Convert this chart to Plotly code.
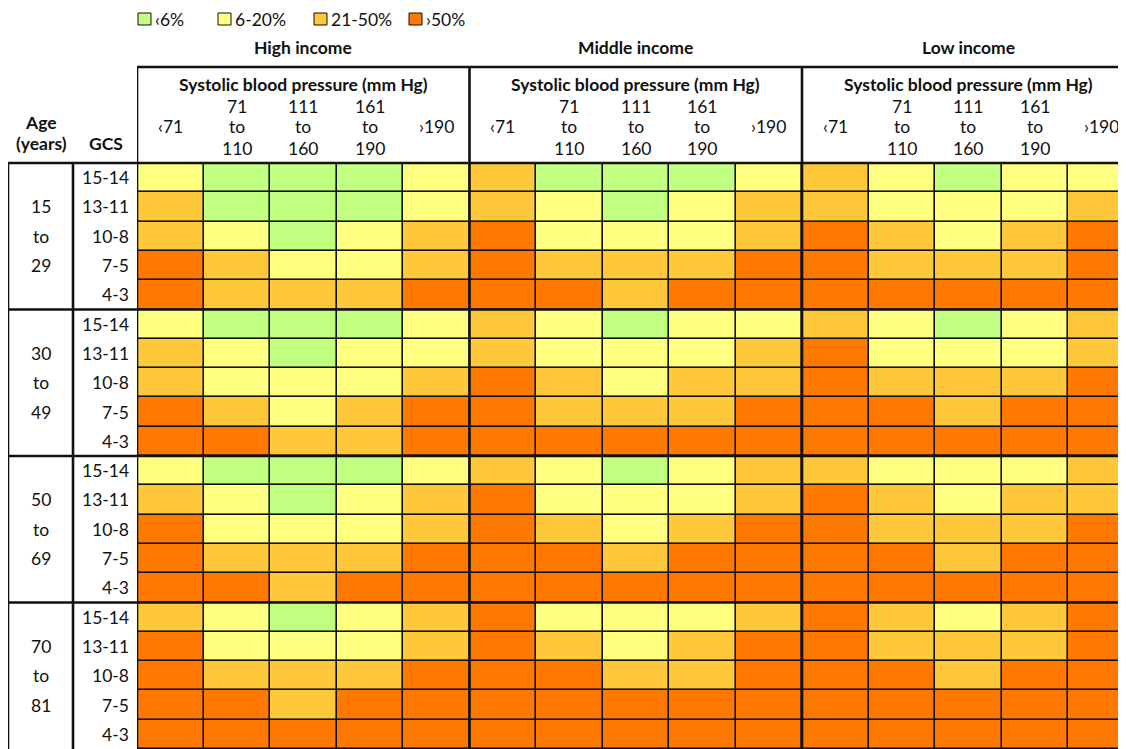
import plotly.graph_objects as go

# ---------------- data ----------------
income_groups = ["High income", "Middle income", "Low income"]
sbp_title = "Systolic blood pressure (mm Hg)"
sbp_top = ["", "71", "111", "161", ""]
sbp_mid = ["‹71", "to", "to", "to", "›190"]
sbp_bot = ["", "110", "160", "190", ""]
age_groups = [["15", "to", "29"], ["30", "to", "49"], ["50", "to", "69"], ["70", "to", "81"]]
gcs_labels = ["15-14", "13-11", "10-8", "7-5", "4-3"]
risk_labels = ["‹6%", "6-20%", "21-50%", "›50%"]
risk_colors = ["#C0FF80", "#FFFF80", "#FFC83A", "#FF7800"]

# risk category codes: 0 = <6%, 1 = 6-20%, 2 = 21-50%, 3 = >50%
# rows: age group x GCS (20 rows), columns: SBP bands
high_income = [
    [1, 0, 0, 0, 1], [2, 0, 0, 0, 1], [2, 1, 0, 1, 2], [3, 2, 1, 1, 2], [3, 2, 2, 2, 3],
    [1, 0, 0, 0, 1], [2, 1, 0, 1, 1], [2, 1, 1, 1, 2], [3, 2, 1, 2, 3], [3, 3, 2, 2, 3],
    [1, 0, 0, 0, 1], [2, 1, 0, 1, 2], [3, 1, 1, 1, 2], [3, 2, 2, 2, 3], [3, 3, 2, 3, 3],
    [2, 1, 0, 1, 2], [3, 1, 1, 1, 2], [3, 2, 2, 2, 3], [3, 3, 2, 3, 3], [3, 3, 3, 3, 3],
]
middle_income = [
    [2, 0, 0, 0, 1], [2, 1, 0, 1, 2], [3, 1, 1, 1, 2], [3, 2, 2, 2, 3], [3, 3, 2, 3, 3],
    [2, 1, 0, 1, 1], [2, 1, 1, 1, 2], [3, 2, 1, 2, 2], [3, 2, 2, 2, 3], [3, 3, 3, 3, 3],
    [2, 1, 0, 1, 2], [3, 1, 1, 1, 2], [3, 2, 1, 2, 3], [3, 3, 2, 3, 3], [3, 3, 3, 3, 3],
    [3, 1, 1, 1, 2], [3, 2, 1, 2, 3], [3, 3, 2, 2, 3], [3, 3, 3, 3, 3], [3, 3, 3, 3, 3],
]
low_income = [
    [2, 1, 0, 1, 1], [2, 1, 1, 1, 2], [3, 2, 1, 2, 3], [3, 2, 2, 2, 3], [3, 3, 3, 3, 3],
    [2, 1, 0, 1, 2], [3, 1, 1, 1, 2], [3, 2, 2, 2, 3], [3, 3, 2, 3, 3], [3, 3, 3, 3, 3],
    [2, 1, 1, 1, 2], [3, 2, 1, 2, 2], [3, 2, 2, 2, 3], [3, 3, 2, 3, 3], [3, 3, 3, 3, 3],
    [3, 2, 1, 2, 3], [3, 2, 2, 2, 3], [3, 3, 2, 3, 3], [3, 3, 3, 3, 3], [3, 3, 3, 3, 3],
]

# ---------------- layout geometry (window pixels) ----------------
WIN_W, WIN_H = 1126, 749
OFF = 8  # page body margin
W, H = WIN_W - OFF, WIN_H - OFF
GRID_LEFT, GRID_TOP = 137, 163
COL_W, ROW_H = 66.5, 29.3
FONT = "Lato"
FS = 17.5
TXT = "#111111"

def px(x):
    return (x - OFF) / W

def py(y):
    return 1 - (y - OFF) / H

n_sbp = len(sbp_mid)
n_gcs = len(gcs_labels)
n_rows = len(high_income)
z = [high_income[r] + middle_income[r] + low_income[r] for r in range(n_rows)]
n_cols = len(z[0])

cs = []
n_cat = len(risk_colors)
for i, c in enumerate(risk_colors):
    cs.append([i / n_cat, c])
    cs.append([(i + 1) / n_cat, c])

fig = go.Figure()
fig.add_trace(go.Heatmap(
    z=z, x=list(range(n_cols)), y=list(range(n_rows)),
    zmin=-0.5, zmax=n_cat - 0.5, colorscale=cs, showscale=False,
    xgap=1.6, ygap=1.6, hoverinfo="skip",
))

x_max = -0.5 + (WIN_W - GRID_LEFT) / COL_W
y_max = -0.5 + (WIN_H - GRID_TOP) / ROW_H

fig.update_layout(
    width=W, height=H,
    margin=dict(l=0, r=0, t=0, b=0),
    paper_bgcolor="white", plot_bgcolor="#111111",
    showlegend=False,
    xaxis=dict(domain=[px(GRID_LEFT), 1], range=[-0.5, x_max], visible=False, fixedrange=True),
    yaxis=dict(domain=[0, py(GRID_TOP)], range=[y_max, -0.5], visible=False, fixedrange=True),
    font=dict(family=FONT, color=TXT, size=FS),
)

shapes = []
ann = []
LW_THICK = 2.6
BLACK = "#111111"

# top line of grid (spanning label columns too)
shapes.append(dict(type="line", xref="paper", yref="paper", x0=px(7), x1=1,
                   y0=py(GRID_TOP), y1=py(GRID_TOP), line=dict(color=BLACK, width=LW_THICK)))
# group horizontal separators
for g in range(1, len(age_groups)):
    yv = g * n_gcs - 0.5
    shapes.append(dict(type="line", xref="paper", yref="y", x0=px(7), x1=1,
                       y0=yv, y1=yv, line=dict(color=BLACK, width=LW_THICK)))
# header box top line
shapes.append(dict(type="line", xref="paper", yref="paper", x0=px(GRID_LEFT), x1=1,
                   y0=py(67), y1=py(67), line=dict(color=BLACK, width=LW_THICK)))
# vertical income separators (through header box)
for g in range(len(income_groups)):
    xv = g * n_sbp - 0.5
    shapes.append(dict(type="line", xref="x", yref="paper", x0=xv, x1=xv,
                       y0=0, y1=py(67), line=dict(color=BLACK, width=LW_THICK)))
# label-column verticals
for xv in (8, 73):
    shapes.append(dict(type="line", xref="paper", yref="paper", x0=px(xv), x1=px(xv),
                       y0=0, y1=py(GRID_TOP), line=dict(color=BLACK, width=LW_THICK)))

# headers
for g, name in enumerate(income_groups):
    xc = g * n_sbp + (n_sbp - 1) / 2
    ann.append(dict(x=xc, y=py(48), xref="x", yref="paper", text=f"<b>{name}</b>",
                    showarrow=False, xanchor="center", yanchor="middle"))
    ann.append(dict(x=xc, y=py(85), xref="x", yref="paper", text=f"<b>{sbp_title}</b>",
                    showarrow=False, xanchor="center", yanchor="middle"))
    for j in range(n_sbp):
        xj = g * n_sbp + j
        for txt, yy in ((sbp_top[j], 106), (sbp_mid[j], 127), (sbp_bot[j], 148)):
            if txt:
                ann.append(dict(x=xj, y=py(yy), xref="x", yref="paper", text=txt,
                                showarrow=False, xanchor="center", yanchor="middle"))

ann.append(dict(x=px(41), y=py(122), xref="paper", yref="paper", text="<b>Age</b>",
                showarrow=False, xanchor="center", yanchor="middle"))
ann.append(dict(x=px(41), y=py(143), xref="paper", yref="paper", text="<b>(years)</b>",
                showarrow=False, xanchor="center", yanchor="middle"))
ann.append(dict(x=px(106), y=py(143), xref="paper", yref="paper", text="<b>GCS</b>",
                showarrow=False, xanchor="center", yanchor="middle"))

# row labels
for g, age in enumerate(age_groups):
    for k, part in enumerate(age):
        ann.append(dict(x=px(41), y=g * n_gcs + 1 + k, xref="paper", yref="y", text=part,
                        showarrow=False, xanchor="center", yanchor="middle"))
    for k, lab in enumerate(gcs_labels):
        ann.append(dict(x=px(131), y=g * n_gcs + k, xref="paper", yref="y", text=lab,
                        showarrow=False, xanchor="right", yanchor="middle"))

# legend
leg_x = [138, 218, 314, 409]
for lx, lab, col in zip(leg_x, risk_labels, risk_colors):
    shapes.append(dict(type="rect", xref="paper", yref="paper", x0=px(lx), x1=px(lx + 13),
                       y0=py(25), y1=py(13), fillcolor=col, line=dict(color=BLACK, width=1)))
    ann.append(dict(x=px(lx + 15), y=py(19), xref="paper", yref="paper", text=lab,
                    showarrow=False, xanchor="left", yanchor="middle"))

fig.update_layout(shapes=shapes, annotations=ann)
fig.write_html("out.html")
